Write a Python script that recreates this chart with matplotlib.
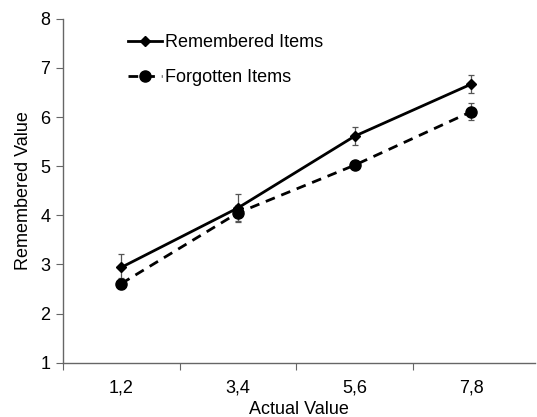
import numpy as np
import matplotlib
matplotlib.use("Agg")
import matplotlib.pyplot as plt
from matplotlib.lines import Line2D

# -----------------------------
# Data
# -----------------------------
categories = ["1,2", "3,4", "5,6", "7,8"]
remembered = [2.94, 4.15, 5.61, 6.67]
remembered_err = [0.28, 0.28, 0.18, 0.18]
forgotten = [2.61, 4.05, 5.02, 6.11]
forgotten_err = [0.11, 0.16, 0.05, 0.17]

plt.rcParams['font.family'] = ['Liberation Sans', 'DejaVu Sans']
FS = 13

fig = plt.figure(figsize=(5.37, 4.17), dpi=100)
ax = fig.add_axes([0.117, 0.13, 0.88, 0.825])

x = np.arange(len(categories)) + 0.5
dash = (0, (3.5, 2.5))

ax.errorbar(x, remembered, yerr=remembered_err, color='black', lw=2,
            marker='D', markersize=5, ecolor='#555555', elinewidth=0.9,
            capsize=2.5, capthick=0.9)
ax.errorbar(x, forgotten, yerr=forgotten_err, color='black', lw=2,
            ls=dash, marker='o', markersize=8, ecolor='#555555',
            elinewidth=0.9, capsize=2.5, capthick=0.9)

ax.set_xlim(0, 4.05)
ax.set_ylim(1, 8)
ax.set_yticks(range(1, 9))
ax.set_xticks(range(0, 4))
ax.set_xticklabels([])
ax.set_xticks(x, minor=True)
ax.set_xticklabels(categories, minor=True)
ax.tick_params(axis='x', which='minor', length=0, pad=12, labelsize=FS)
ax.tick_params(axis='x', which='major', length=5, color='#666666', direction='out')
ax.tick_params(axis='y', length=5, color='#666666', labelsize=FS, pad=4)

for side in ['top', 'right']:
    ax.spines[side].set_visible(False)
for side in ['left', 'bottom']:
    ax.spines[side].set_color('#666666')
    ax.spines[side].set_linewidth(1.0)

ax.set_xlabel("Actual Value", fontsize=FS, labelpad=3)
ax.set_ylabel("Remembered Value", fontsize=FS, labelpad=6)

# legend: line + marker only, no error bars
handles = [
    Line2D([], [], color='black', lw=2, marker='D', markersize=5),
    Line2D([], [], color='black', lw=2, ls=dash, marker='o', markersize=8),
]
labels = ["Remembered Items", "Forgotten Items"]
ax.legend(handles, labels, loc='upper left', bbox_to_anchor=(0.103, 1.003),
          frameon=False, fontsize=FS, handlelength=1.9, handletextpad=0.15,
          labelspacing=1.0)

fig.savefig("out.png", dpi=100)
